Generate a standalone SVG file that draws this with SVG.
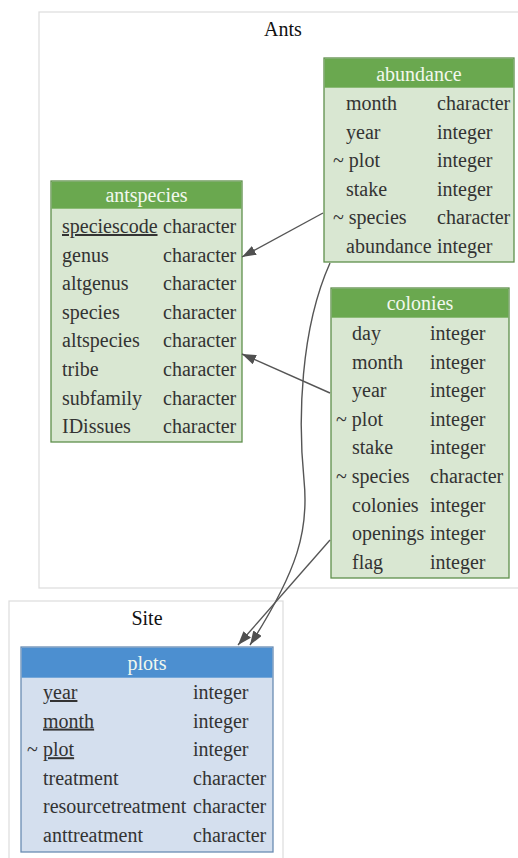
<svg xmlns="http://www.w3.org/2000/svg" width="518" height="858" viewBox="0 0 518 858" font-family="Liberation Serif, DejaVu Serif, serif">
<style>
text{font-family:'Liberation Serif','DejaVu Serif',serif;font-size:20px;fill:#333}
.cl{fill:#fff;stroke:#dcdcdc;stroke-width:1.2}
.ct{font-size:20px;fill:#111;text-anchor:middle}
.gb{fill:#d9e7d2;stroke:#5f8f4c;stroke-width:1.3}
.gh{fill:#6aa84f}
.bb{fill:#d4dfee;stroke:#6a8db3;stroke-width:1.3}
.bh{fill:#4c8fd0}
.ht{fill:#f2f8ee;text-anchor:middle}
.ul{text-decoration:underline}
.e{fill:none;stroke:#555;stroke-width:1.4}
</style>
<defs>
<marker id="ah" markerUnits="userSpaceOnUse" markerWidth="16" markerHeight="12" refX="14" refY="5" orient="auto">
<path d="M0,0 L14,5 L0,10 z" fill="#505050"/>
</marker>
</defs>
<g id="cluster-ants">
<rect class="cl" x="39" y="12" width="490" height="576"/>
<text class="ct" x="283" y="36">Ants</text>
</g>
<g id="cluster-site">
<rect class="cl" x="9" y="601" width="274" height="270"/>
<text class="ct" x="147" y="625">Site</text>
</g>
<g id="abundance">
<rect class="gb" x="324" y="58" width="190" height="204"/>
<rect class="gh" x="324.7" y="58.7" width="188.6" height="29"/>
<text class="ht" x="419" y="81">abundance</text>
<text x="346" y="110">month</text><text x="437" y="110">character</text>
<text x="346" y="138.6">year</text><text x="437" y="138.6">integer</text>
<text x="333" y="167.2">~ plot</text><text x="437" y="167.2">integer</text>
<text x="346" y="195.8">stake</text><text x="437" y="195.8">integer</text>
<text x="333" y="224.4">~ species</text><text x="437" y="224.4">character</text>
<text x="346" y="253">abundance</text><text x="437" y="253">integer</text>
</g>
<g id="antspecies">
<rect class="gb" x="51" y="181" width="191" height="261"/>
<rect class="gh" x="51.7" y="181.7" width="189.6" height="27"/>
<text class="ht" x="146.5" y="202">antspecies</text>
<text class="ul" x="62" y="233">speciescode</text><text x="163" y="233">character</text>
<text x="62" y="261.6">genus</text><text x="163" y="261.6">character</text>
<text x="62" y="290.2">altgenus</text><text x="163" y="290.2">character</text>
<text x="62" y="318.8">species</text><text x="163" y="318.8">character</text>
<text x="62" y="347.4">altspecies</text><text x="163" y="347.4">character</text>
<text x="62" y="376">tribe</text><text x="163" y="376">character</text>
<text x="62" y="404.6">subfamily</text><text x="163" y="404.6">character</text>
<text x="62" y="433.2">IDissues</text><text x="163" y="433.2">character</text>
</g>
<g id="colonies">
<rect class="gb" x="331" y="288" width="178" height="290"/>
<rect class="gh" x="331.7" y="288.7" width="176.6" height="29"/>
<text class="ht" x="420" y="310">colonies</text>
<text x="352" y="340">day</text><text x="430" y="340">integer</text>
<text x="352" y="368.6">month</text><text x="430" y="368.6">integer</text>
<text x="352" y="397.2">year</text><text x="430" y="397.2">integer</text>
<text x="336" y="425.8">~ plot</text><text x="430" y="425.8">integer</text>
<text x="352" y="454.4">stake</text><text x="430" y="454.4">integer</text>
<text x="336" y="483">~ species</text><text x="430" y="483">character</text>
<text x="352" y="511.6">colonies</text><text x="430" y="511.6">integer</text>
<text x="352" y="540.2">openings</text><text x="430" y="540.2">integer</text>
<text x="352" y="568.8">flag</text><text x="430" y="568.8">integer</text>
</g>
<g id="plots">
<rect class="bb" x="21" y="647" width="252" height="205"/>
<rect class="bh" x="21.7" y="647.7" width="250.6" height="30"/>
<text class="ht" x="147" y="670">plots</text>
<text class="ul" x="43" y="699">year</text><text x="193" y="699">integer</text>
<text class="ul" x="43" y="727.6">month</text><text x="193" y="727.6">integer</text>
<text x="27" y="756.2">~ </text><text class="ul" x="43" y="756.2">plot</text><text x="193" y="756.2">integer</text>
<text x="43" y="784.8">treatment</text><text x="193" y="784.8">character</text>
<text x="43" y="813.4">resourcetreatment</text><text x="193" y="813.4">character</text>
<text x="43" y="842">anttreatment</text><text x="193" y="842">character</text>
</g>
<g id="edges">
<path class="e" marker-end="url(#ah)" d="M323,213 L242,257"/>
<path class="e" marker-end="url(#ah)" d="M330,393 L242,354"/>
<path class="e" marker-end="url(#ah)" d="M330,263 C300,330 298,420 304,480 C309,530 298,570 250,645"/>
<path class="e" marker-end="url(#ah)" d="M330,540 L238,645"/>
</g>
</svg>
